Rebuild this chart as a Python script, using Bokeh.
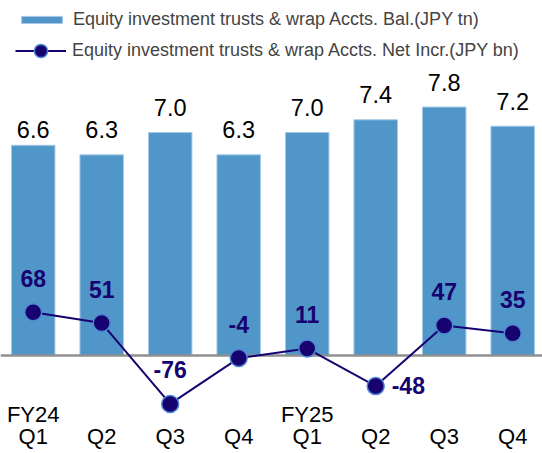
from bokeh.plotting import figure
from bokeh.models import (Range1d, LinearAxis, FixedTicker, ColumnDataSource,
                          Legend, LegendItem)
from bokeh.embed import file_html
from bokeh.resources import INLINE
from bokeh.core.properties import value

# ---- data ----
fiscal_years = ["FY24", "", "", "", "FY25", "", "", ""]
quarters = ["Q1", "Q2", "Q3", "Q4", "Q1", "Q2", "Q3", "Q4"]
balance_tn = [6.6, 6.3, 7.0, 6.3, 7.0, 7.4, 7.8, 7.2]
net_incr_bn = [68, 51, -76, -4, 11, -48, 47, 35]

bal_name = "Equity investment trusts & wrap Accts. Bal.(JPY tn)"
inc_name = "Equity investment trusts & wrap Accts. Net Incr.(JPY bn)"

# ---- styles ----
FONT = value("Liberation Sans")
BAR = "#5096c9"
BAR_EDGE = "#a6c8e6"
NAVY = "#16036f"
RING = "#4f86d6"

W, H = 542, 453

idx = list(range(len(quarters)))
# label placement (style only)
bal_dy = [-16 if i == 0 else -25 for i in idx]          # first label sits lower
inc_align = ["left" if v == -48 else "center" for v in net_incr_bn]
inc_dx = [16 if v == -48 else 0 for v in net_incr_bn]
inc_dy = [-1 if v == -48 else -34 for v in net_incr_bn]

src = ColumnDataSource(dict(
    x=idx,
    bal=balance_tn,
    bal_lab=[f"{v:.1f}" for v in balance_tn],
    bal_dy=bal_dy,
    inc=net_incr_bn,
    inc_lab=[str(v) for v in net_incr_bn],
    inc_align=inc_align, inc_dx=inc_dx, inc_dy=inc_dy,
))

p = figure(width=W, height=H, output_backend="svg", toolbar_location=None,
           x_range=Range1d(-0.4774, 7.435), y_range=Range1d(-3.077, 11.146),
           min_border=0, x_axis_location=None, y_axis_location=None)
p.outline_line_color = None
p.grid.visible = False
p.extra_y_ranges = {"incr": Range1d(-153.8, 557.3)}

bars = p.vbar(x="x", top="bal", bottom=0, width=0.635, source=src,
              fill_color=BAR, line_color=BAR_EDGE, line_width=1)

p.text(x="x", y="bal", text="bal_lab", source=src, text_align="center",
       text_baseline="alphabetic", y_offset="bal_dy", text_font=FONT,
       text_font_size="23.5px", text_color="#000000")

p.hspan(y=[0], line_color="#8f8f8f", line_width=2.5)

line = p.line(x="x", y="inc", source=src, y_range_name="incr",
              line_color=NAVY, line_width=2)
dots = p.scatter(x="x", y="inc", source=src, y_range_name="incr", size=17,
                 fill_color=NAVY, line_color=RING, line_width=1.5)

p.text(x="x", y="inc", text="inc_lab", source=src, y_range_name="incr",
       text_align="inc_align", text_baseline="alphabetic",
       x_offset="inc_dx", y_offset="inc_dy", text_font=FONT,
       text_font_size="23px", text_font_style="bold", text_color=NAVY)

# category axes drawn at y = 0, labels pushed down under the baseline
def cat_axis(labels, standoff):
    ax = LinearAxis(ticker=FixedTicker(ticks=idx, minor_ticks=[]),
                    major_label_overrides={i: s for i, s in zip(idx, labels)},
                    fixed_location=0)
    ax.axis_line_color = None
    ax.major_tick_line_color = None
    ax.minor_tick_line_color = None
    ax.major_tick_out = 0
    ax.major_tick_in = 0
    ax.major_label_standoff = standoff
    ax.major_label_text_font = "Liberation Sans"
    ax.major_label_text_font_size = "22px"
    ax.major_label_text_color = "#000000"
    return ax

p.add_layout(cat_axis(fiscal_years, 47), "below")
p.add_layout(cat_axis(quarters, 69), "below")

common = dict(orientation="vertical", background_fill_alpha=0,
              border_line_color=None, padding=0, margin=0, glyph_width=51,
              label_standoff=6, label_text_font="Liberation Sans",
              label_text_font_size="18px", label_height=20)
legend_bar = Legend(items=[LegendItem(label=bal_name, renderers=[bars])],
                    location=(16, H - 30), glyph_height=9, **common)
legend_line = Legend(items=[LegendItem(label=inc_name, renderers=[line, dots])],
                     location=(15, H - 67), glyph_height=33, **common)
p.add_layout(legend_bar)
p.add_layout(legend_line)

open("out.html", "w").write(file_html(p, INLINE))
